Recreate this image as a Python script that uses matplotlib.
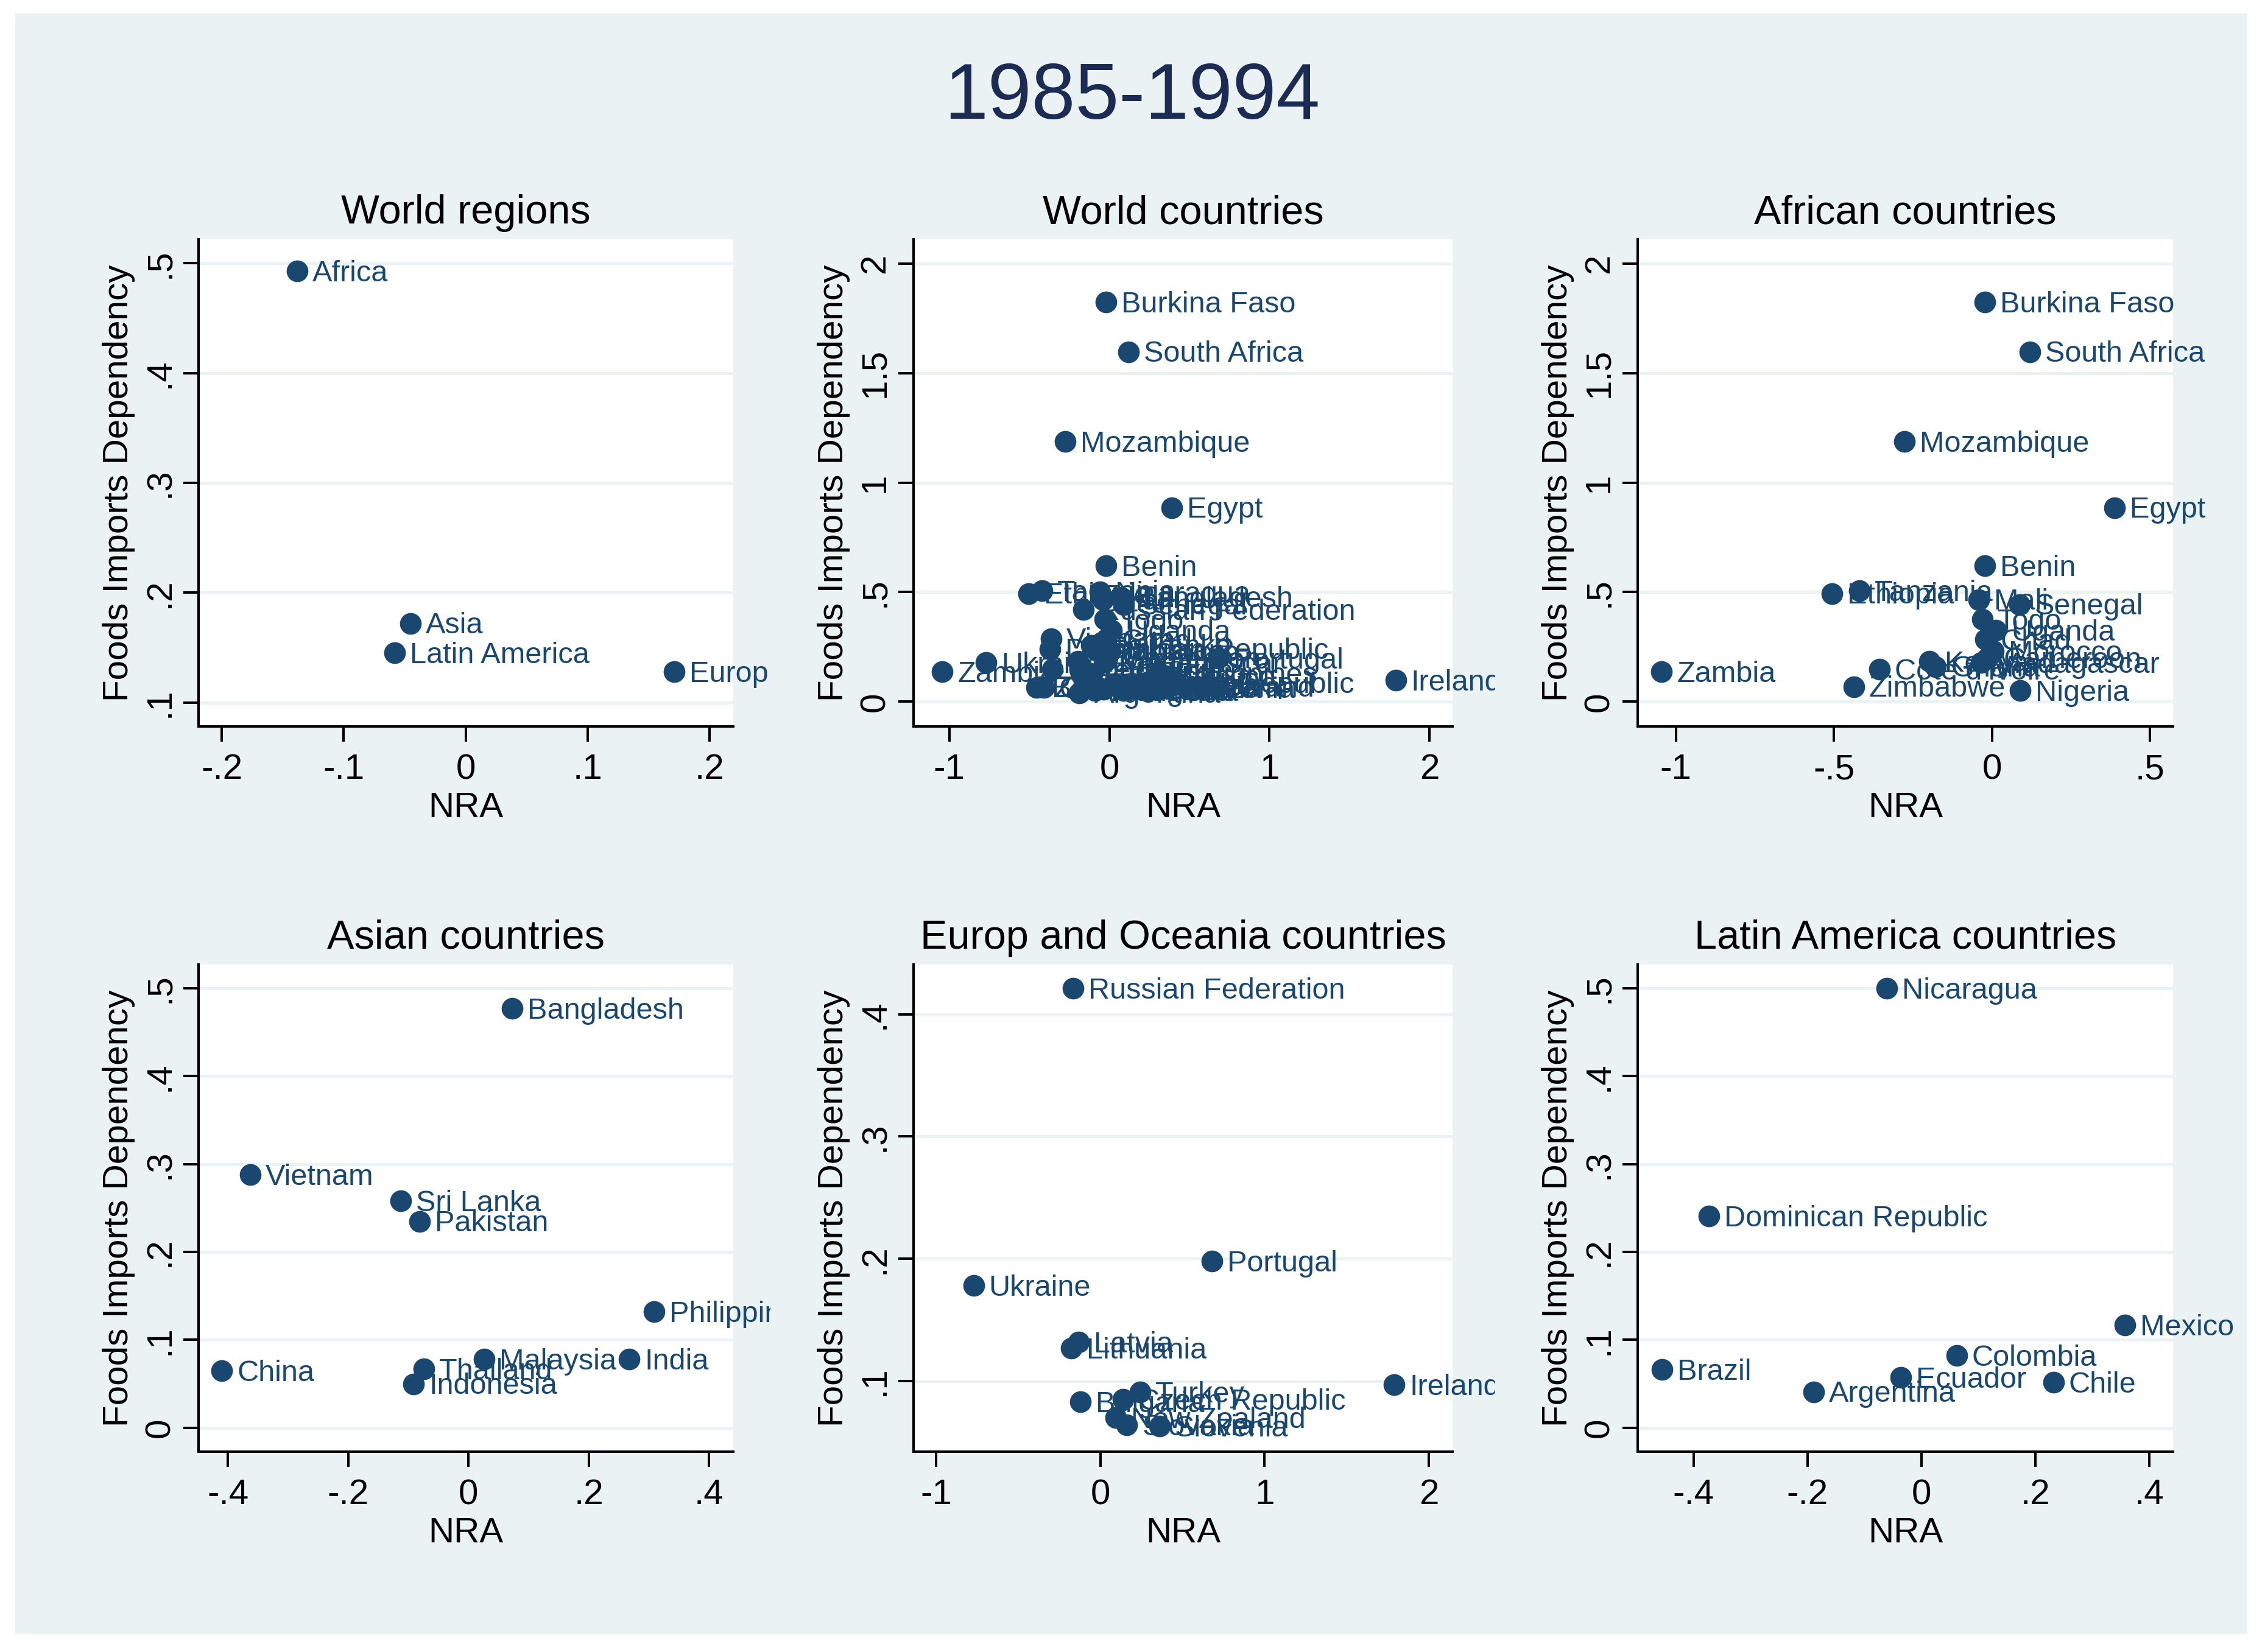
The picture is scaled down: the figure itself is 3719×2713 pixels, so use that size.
import matplotlib
matplotlib.use("Agg")
import matplotlib.pyplot as plt
from matplotlib.patches import Rectangle
from matplotlib.transforms import Bbox, TransformedBbox
from matplotlib.ticker import FuncFormatter

plt.rcParams['font.family'] = ['Liberation Sans', 'DejaVu Sans']
plt.rcParams['axes.unicode_minus'] = False

# ---------------- data ----------------
main_title = "1985-1994"

region_names = ["Africa", "Asia", "Latin America", "Europ and Oceania"]
region_nra = [-0.138, -0.0455, -0.0585, 0.171]
region_fid = [0.493, 0.172, 0.145, 0.128]

africa_names = ["Burkina Faso", "South Africa", "Mozambique", "Egypt", "Benin",
                "Ethiopia", "Tanzania", "Mali", "Senegal", "Togo", "Uganda",
                "Chad", "Morocco", "Cameroon", "Madagascar", "Kenya", "Ghana",
                "Cote d'Ivoire", "Zimbabwe", "Nigeria", "Zambia"]
africa_nra = [-0.022, 0.121, -0.277, 0.389, -0.022,
              -0.505, -0.420, -0.042, 0.088, -0.030, 0.012,
              -0.021, 0.004, -0.012, -0.033, -0.197, -0.178,
              -0.355, -0.437, 0.089, -1.045]
africa_fid = [1.824, 1.598, 1.188, 0.886, 0.621,
              0.494, 0.507, 0.466, 0.444, 0.376, 0.326,
              0.284, 0.232, 0.200, 0.178, 0.184, 0.160,
              0.147, 0.069, 0.050, 0.136]

asia_names = ["Bangladesh", "Vietnam", "Sri Lanka", "Pakistan", "Philippines",
              "China", "Thailand", "Malaysia", "India", "Indonesia"]
asia_nra = [0.073, -0.363, -0.113, -0.081, 0.308, -0.410, -0.074, 0.026, 0.267, -0.091]
asia_fid = [0.477, 0.288, 0.258, 0.235, 0.132, 0.065, 0.067, 0.078, 0.078, 0.050]

europe_names = ["Russian Federation", "Portugal", "Ukraine", "Latvia", "Lithuania",
                "Ireland", "Bulgaria", "Turkey", "Czech Republic", "New Zealand",
                "Slovakia", "Slovenia"]
europe_nra = [-0.164, 0.678, -0.771, -0.133, -0.176, 1.789, -0.122, 0.242, 0.137,
              0.093, 0.162, 0.359]
europe_fid = [0.421, 0.198, 0.178, 0.132, 0.127, 0.097, 0.083, 0.091, 0.085,
              0.070, 0.064, 0.063]

latam_names = ["Nicaragua", "Dominican Republic", "Mexico", "Colombia", "Brazil",
               "Ecuador", "Chile", "Argentina"]
latam_nra = [-0.0605, -0.373, 0.357, 0.062, -0.455, -0.036, 0.232, -0.189]
latam_fid = [0.500, 0.241, 0.117, 0.082, 0.066, 0.057, 0.0515, 0.041]

world_names = africa_names + asia_names + europe_names + latam_names
world_nra = africa_nra + asia_nra + europe_nra + latam_nra
world_fid = africa_fid + asia_fid + europe_fid + latam_fid

x_label = "NRA"
y_label = "Foods Imports Dependency"

# ---------------- styling ----------------
W, H = 3719, 2713
DPI = 100
BG = '#EAF2F3'
NAVY = '#1A476F'

fig = plt.figure(figsize=(W / DPI, H / DPI), dpi=DPI, facecolor='white')
fig.patches.append(Rectangle((25 / W, 1 - 2683 / H), (3690 - 25) / W, (2683 - 22) / H,
                             transform=fig.transFigure, facecolor=BG, edgecolor='none',
                             zorder=-10))

fig.text(1859 / W, 1 - 161 / H, main_title, ha='center', va='center',
         fontsize=93, color='#1c2b54')


def stata_fmt(v, pos=None):
    v = round(v, 6)
    if abs(v) < 1e-9:
        return "0"
    s = f"{v:g}"
    if s.startswith("0."):
        s = s[1:]
    elif s.startswith("-0."):
        s = "-" + s[2:]
    return s


col_left = [326, 1500, 2689]
col_width = [878, 885, 879]
col_clip_right = [1265, 2455, 3688]
row_top = [393, 1584]
row_h = 800

panels = [
    dict(title="World regions", names=region_names, x=region_nra, y=region_fid,
         xlim=(-0.219, 0.2193), ylim=(0.0781, 0.5218),
         xt=[-0.2, -0.1, 0, 0.1, 0.2], yt=[0.1, 0.2, 0.3, 0.4, 0.5], r=0, c=0),
    dict(title="World countries", names=world_names, x=world_nra, y=world_fid,
         xlim=(-1.224, 2.144), ylim=(-0.113, 2.111),
         xt=[-1, 0, 1, 2], yt=[0, 0.5, 1, 1.5, 2], r=0, c=1),
    dict(title="African countries", names=africa_names, x=africa_nra, y=africa_fid,
         xlim=(-1.1205, 0.573), ylim=(-0.113, 2.111),
         xt=[-1, -0.5, 0, 0.5], yt=[0, 0.5, 1, 1.5, 2], r=0, c=2),
    dict(title="Asian countries", names=asia_names, x=asia_nra, y=asia_fid,
         xlim=(-0.4486, 0.44), ylim=(-0.0272, 0.527),
         xt=[-0.4, -0.2, 0, 0.2, 0.4], yt=[0, 0.1, 0.2, 0.3, 0.4, 0.5], r=1, c=0),
    dict(title="Europ and Oceania countries", names=europe_names, x=europe_nra, y=europe_fid,
         xlim=(-1.137, 2.144), ylim=(0.0423, 0.4406),
         xt=[-1, 0, 1, 2], yt=[0.1, 0.2, 0.3, 0.4], r=1, c=1),
    dict(title="Latin America countries", names=latam_names, x=latam_nra, y=latam_fid,
         xlim=(-0.498, 0.4415), ylim=(-0.0272, 0.527),
         xt=[-0.4, -0.2, 0, 0.2, 0.4], yt=[0, 0.1, 0.2, 0.3, 0.4, 0.5], r=1, c=2),
]

for p in panels:
    c, r = p['c'], p['r']
    x0 = col_left[c]
    w = col_width[c]
    top = row_top[r]
    ax = fig.add_axes([x0 / W, 1 - (top + row_h) / H, w / W, row_h / H])
    ax.set_facecolor('white')
    ax.set_xlim(*p['xlim'])
    ax.set_ylim(*p['ylim'])
    ax.set_xticks(p['xt'])
    ax.set_yticks(p['yt'])
    ax.xaxis.set_major_formatter(FuncFormatter(stata_fmt))
    ax.yaxis.set_major_formatter(FuncFormatter(stata_fmt))
    for side in ['top', 'right']:
        ax.spines[side].set_visible(False)
    for side in ['left', 'bottom']:
        ax.spines[side].set_linewidth(2.9)
        ax.spines[side].set_color('black')
    ax.tick_params(axis='both', direction='out', length=18, width=2.9,
                   labelsize=42, colors='black', pad=14)
    ax.tick_params(axis='y', labelrotation=90, pad=8)
    for lab in ax.get_yticklabels():
        lab.set_va('center')
    ax.yaxis.grid(True, color=BG, linewidth=3.6)
    ax.xaxis.grid(False)
    ax.set_axisbelow(True)
    ax.set_xlabel(x_label, fontsize=42, labelpad=6)
    ax.set_ylabel(y_label, fontsize=42, labelpad=10)

    fig.text((x0 + w / 2) / W, 1 - (top - 43) / H, p['title'], ha='center',
             va='center', fontsize=48, color='black')

    ax.scatter(p['x'], p['y'], s=660, color=NAVY, linewidths=0, zorder=3, clip_on=False)

    clip = TransformedBbox(Bbox.from_extents(x0 / W, 1 - (top + row_h) / H,
                                             col_clip_right[c] / W, 1 - (top - 20) / H),
                           fig.transFigure)
    for name, xv, yv in zip(p['names'], p['x'], p['y']):
        t = ax.annotate(name, (xv, yv), xytext=(18, -3), textcoords='offset points',
                        ha='left', va='center', fontsize=35, color=NAVY, zorder=4,
                        annotation_clip=False)
        t.set_clip_on(True)
        t.set_clip_box(clip)

fig.savefig("out.png", dpi=DPI, facecolor='white')
